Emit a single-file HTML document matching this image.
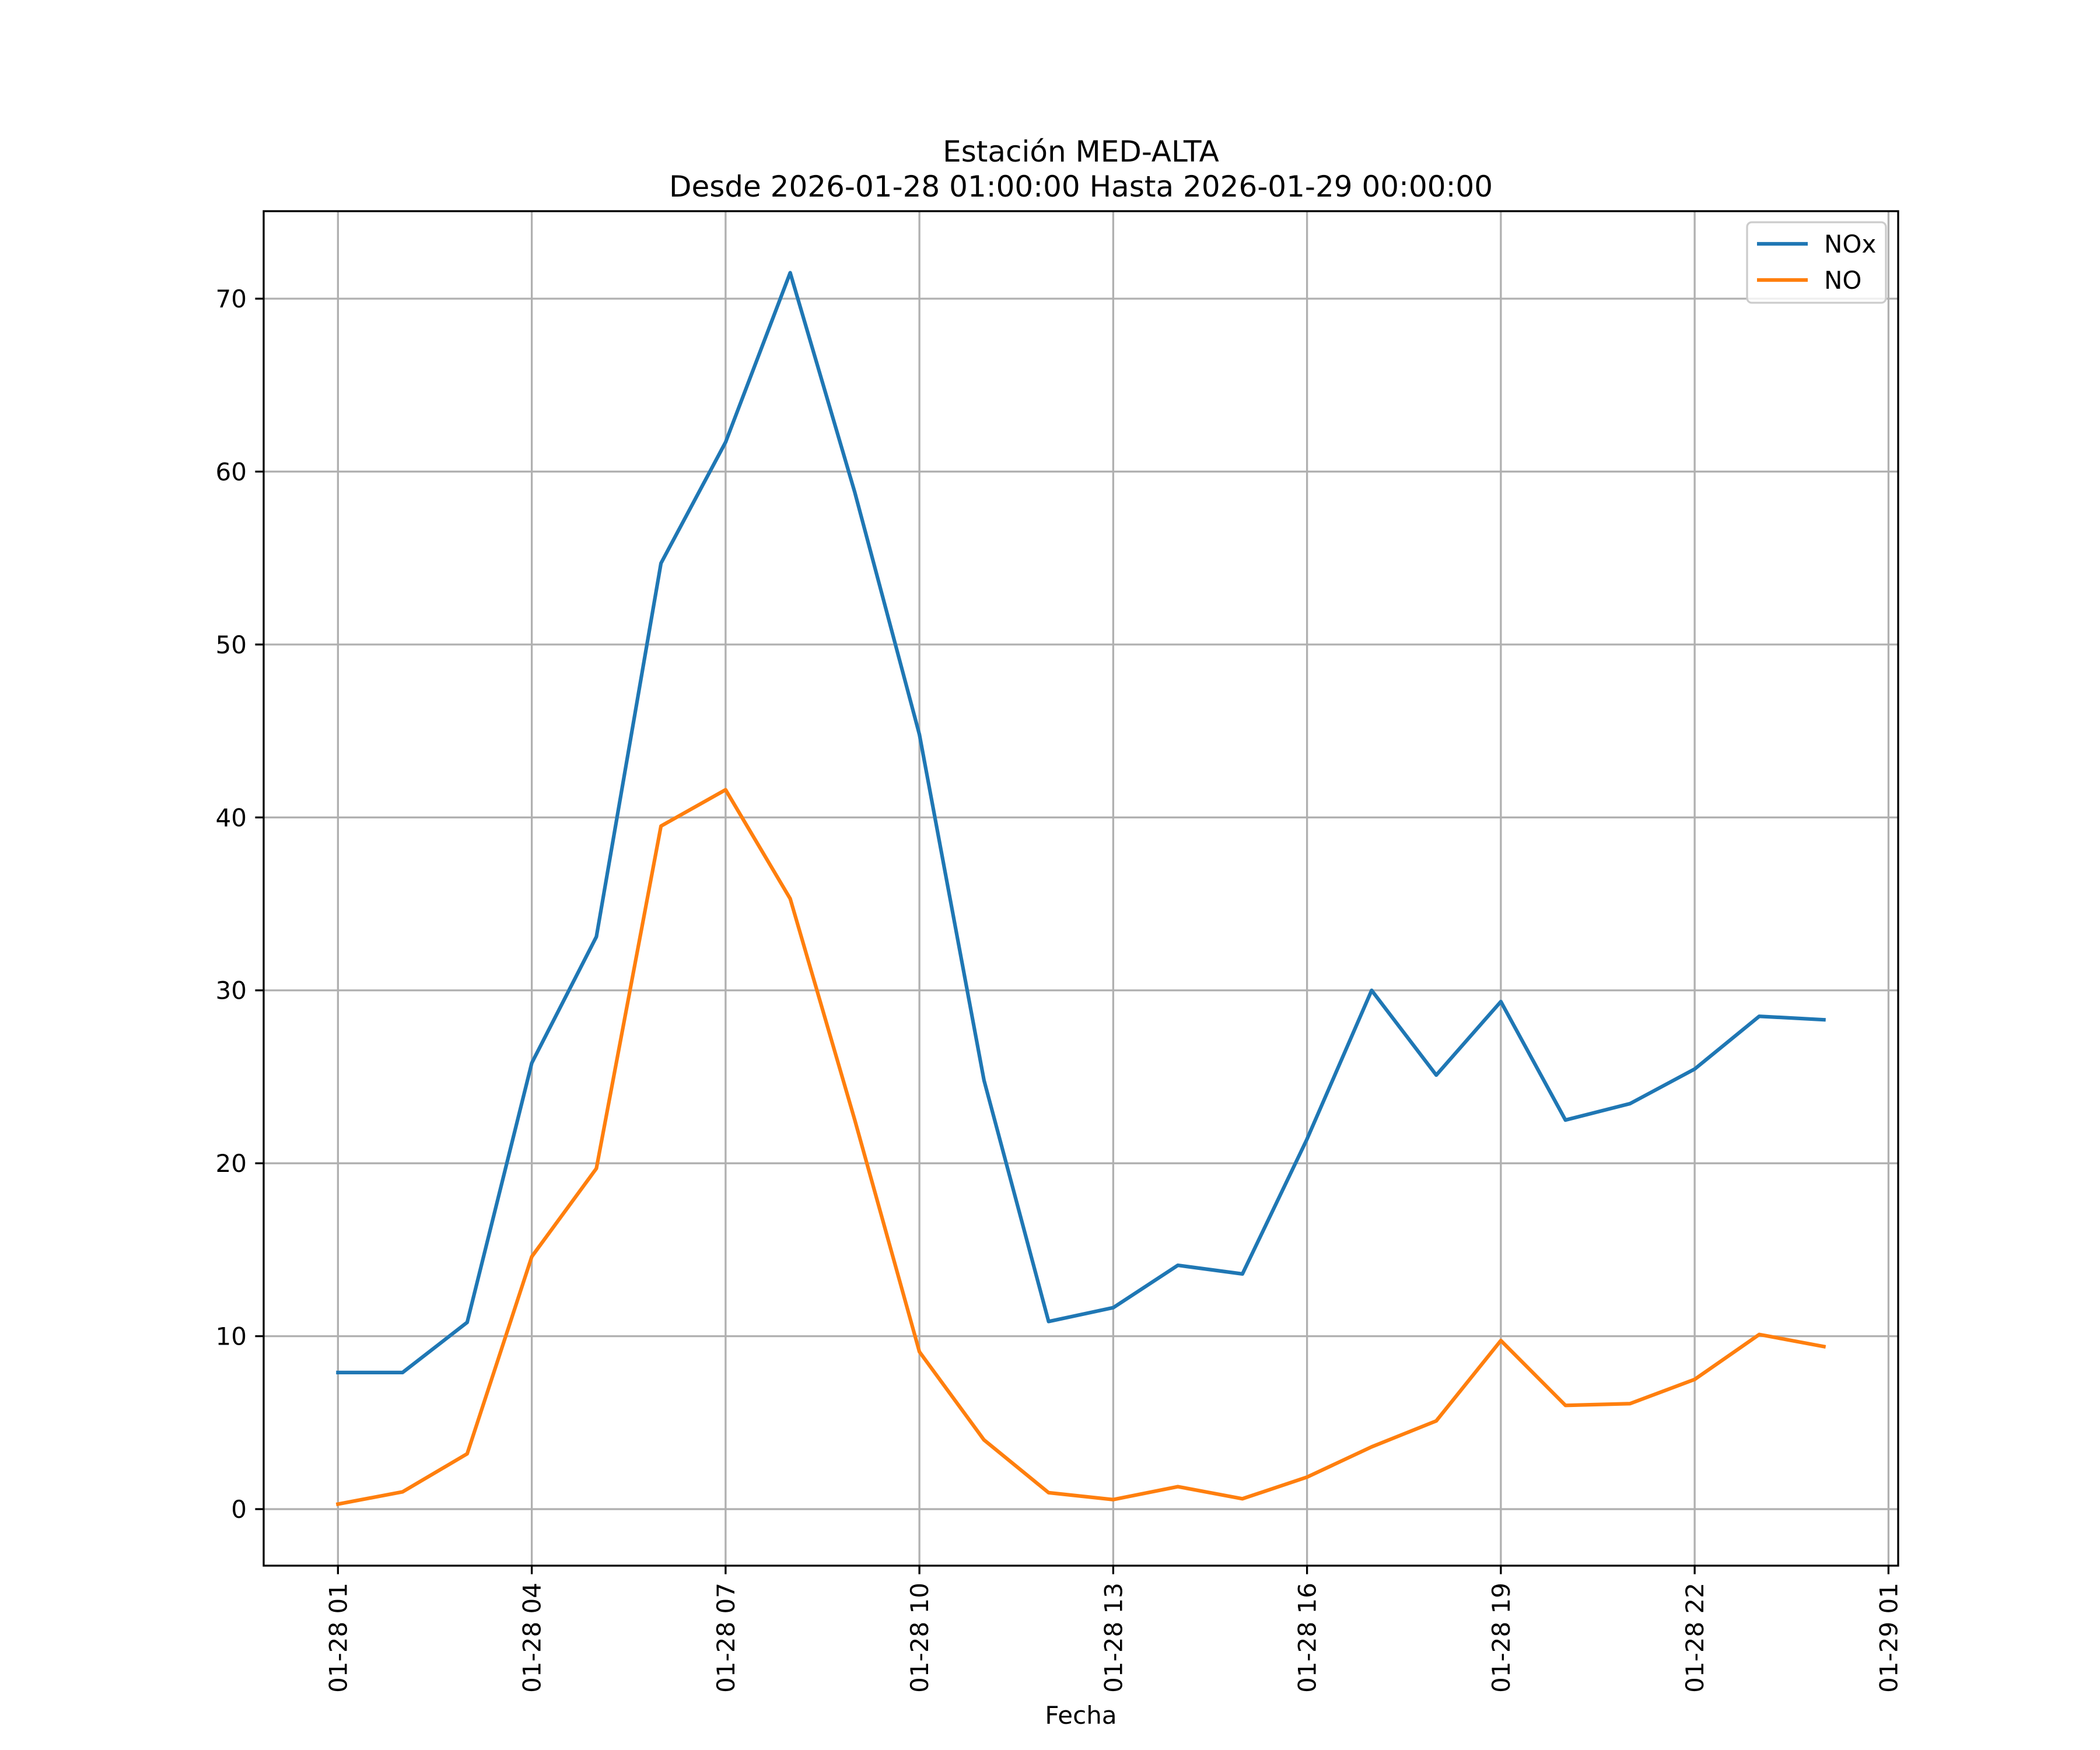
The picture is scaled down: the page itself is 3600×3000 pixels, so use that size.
<!DOCTYPE html>
<html><head><meta charset="utf-8"><style>html,body{margin:0;padding:0;background:#fff}svg{display:block}text{font-family:"DejaVu Sans","Liberation Sans",sans-serif;fill:#000}</style></head>
<body>
<svg id="chart" width="3600" height="3000" viewBox="0 0 3600 3000" xmlns="http://www.w3.org/2000/svg">
<rect width="3600" height="3000" fill="#fff"/>
<text x="1853" y="277" font-size="50" text-anchor="middle">Estación MED-ALTA</text>
<text x="1853" y="337" font-size="50" text-anchor="middle">Desde 2026-01-28 01:00:00 Hasta 2026-01-29 00:00:00</text>
<g id="grid"></g>
<g id="series"></g>
<rect x="452" y="362" width="2802" height="2322" fill="none" stroke="#000" stroke-width="3.3"/>
<g id="ticks"></g>
<text x="1853" y="2955" font-size="42" text-anchor="middle">Fecha</text>
<g>
<rect x="2995" y="381" width="238" height="138" fill="#fff" fill-opacity="0.8" stroke="#ccc" stroke-width="3.3" rx="8"/>
<line x1="3012" y1="418" x2="3099" y2="418" stroke="#1f77b4" stroke-width="6.25"/>
<text x="3127" y="433" font-size="42">NOx</text>
<line x1="3012" y1="480" x2="3099" y2="480" stroke="#ff7f0e" stroke-width="6.25"/>
<text x="3127" y="495" font-size="42">NO</text>
</g>
</svg>
<script>
const hours = [1,2,3,4,5,6,7,8,9,10,11,12,13,14,15,16,17,18,19,20,21,22,23,24];
const noxValues = [7.9,7.9,10.8,25.8,33.1,54.7,61.7,71.5,58.8,44.8,24.8,10.85,11.65,14.1,13.6,21.4,30.0,25.1,29.35,22.5,23.45,25.45,28.5,28.3];
const noValues = [0.29,1.0,3.2,14.6,19.7,39.5,41.6,35.3,22.5,9.1,4.0,0.95,0.55,1.3,0.6,1.85,3.6,5.1,9.75,6.0,6.1,7.5,10.1,9.4];
const yTicks = [0,10,20,30,40,50,60,70];
const xTickHours = [1,4,7,10,13,16,19,22,25];
const xTickLabels = ["01-28 01","01-28 04","01-28 07","01-28 10","01-28 13","01-28 16","01-28 19","01-28 22","01-29 01"];

const L=452,R=3254,T=362,B=2684;
const allV=noxValues.concat(noValues);
const vmin=Math.min(...allV),vmax=Math.max(...allV),vr=vmax-vmin;
const y0=vmin-0.05*vr,y1=vmax+0.05*vr;
const h0=Math.min(...hours),h1=Math.max(...hours),hr=h1-h0;
const x0=h0-0.05*hr,x1=h1+0.05*hr;
const sx=h=>L+(h-x0)/(x1-x0)*(R-L);
const sy=v=>B-(v-y0)/(y1-y0)*(B-T);
const NS="http://www.w3.org/2000/svg";
function mk(tag,attrs,parent){const e=document.createElementNS(NS,tag);for(const k in attrs)e.setAttribute(k,attrs[k]);parent.appendChild(e);return e;}
const grid=document.getElementById('grid'),ticks=document.getElementById('ticks'),series=document.getElementById('series');
yTicks.forEach(v=>{const y=sy(v);
 const g=mk('line',{x1:L,x2:R,y1:y,y2:y,stroke:'#b0b0b0','stroke-width':3.3},grid);
 
 
 mk('line',{x1:L-14.6,x2:L,y1:y,y2:y,stroke:'#000','stroke-width':3.3},ticks);
 const t=mk('text',{x:L-29,y:y+15,'font-size':42,'text-anchor':'end'},ticks);
 
 
 t.textContent=v;});
xTickHours.forEach((h,i)=>{const x=sx(h);
 const g=mk('line',{x1:x,x2:x,y1:T,y2:B,stroke:'#b0b0b0','stroke-width':3.3},grid);
 
 
 mk('line',{x1:x,x2:x,y1:B,y2:B+14.6,stroke:'#000','stroke-width':3.3},ticks);
 const t=mk('text',{x:0,y:0,'font-size':42,'text-anchor':'end',transform:`translate(${x+15},${B+29}) rotate(-90)`},ticks);
 
 
 t.textContent=xTickLabels[i];});
function line(vals,color,name){
 const p=mk('polyline',{points:vals.map((v,i)=>sx(hours[i])+','+sy(v)).join(' '),fill:'none',stroke:color,'stroke-width':6.25,'stroke-linejoin':'round','stroke-linecap':'square'},series);
 
 }
line(noxValues,'#1f77b4','nox-line');
line(noValues,'#ff7f0e','no-line');
</script>
</body></html>
